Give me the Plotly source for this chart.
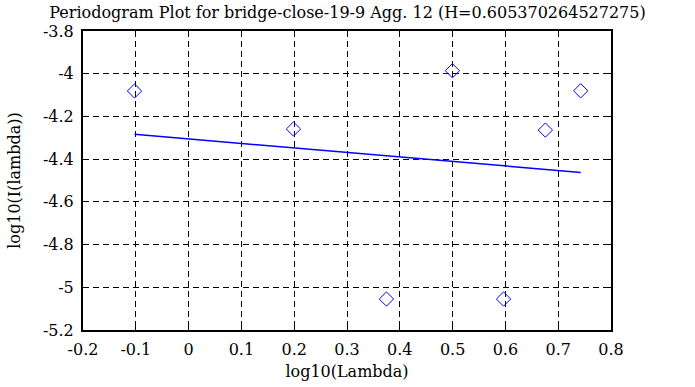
import plotly.graph_objects as go

# Data
log_lambda = [-0.1024, 0.1986, 0.3747, 0.4996, 0.5965, 0.6757, 0.7426]
log_I = [-4.081, -4.259, -5.055, -3.986, -5.055, -4.264, -4.080]
fit_x = [-0.1024, 0.7426]
fit_y = [-4.284, -4.462]

x_tickvals = [-0.2, -0.1, 0, 0.1, 0.2, 0.3, 0.4, 0.5, 0.6, 0.7, 0.8]
x_ticktext = ["-0.2", "-0.1", "0", "0.1", "0.2", "0.3", "0.4", "0.5", "0.6", "0.7", "0.8"]
y_tickvals = [-3.8, -4.0, -4.2, -4.4, -4.6, -4.8, -5.0, -5.2]
y_ticktext = ["-3.8", "-4", "-4.2", "-4.4", "-4.6", "-4.8", "-5", "-5.2"]

title_text = "Periodogram Plot for bridge-close-19-9 Agg. 12 (H=0.605370264527275)"

FONT = "DejaVu Serif"
FS = 16

fig = go.Figure()
fig.add_trace(go.Scatter(
    x=log_lambda, y=log_I, mode="markers",
    marker=dict(symbol="diamond-open", size=11, color="#0000ff", line=dict(width=1, color="#0000ff")),
    showlegend=False, hoverinfo="skip"))
fig.add_trace(go.Scatter(
    x=fit_x, y=fit_y, mode="lines",
    line=dict(color="#0000ff", width=1.5),
    showlegend=False, hoverinfo="skip"))

axis_common = dict(
    showline=True, linecolor="black", linewidth=2, mirror="ticks",
    ticks="inside", ticklen=6, tickwidth=1, tickcolor="black",
    showgrid=True, gridcolor="black", gridwidth=1, griddash="6px,4px",
    zeroline=False, automargin=False,
    tickfont=dict(family=FONT, size=FS, color="black"),
)

fig.update_layout(
    width=695, height=387,
    margin=dict(l=83, r=84, t=31, b=57, autoexpand=False),
    paper_bgcolor="white", plot_bgcolor="white",
    font=dict(family=FONT, size=FS, color="black"),
    title=dict(text=title_text, x=0.5, xanchor="center", y=0.967, yanchor="middle",
               font=dict(family=FONT, size=FS, color="black"), automargin=False),
    xaxis=dict(range=[-0.2, 0.8], tickvals=x_tickvals, ticktext=x_ticktext,
               title=dict(text="log10(Lambda)", font=dict(family=FONT, size=FS, color="black"), standoff=8),
               ticklabelstandoff=4, **axis_common),
    yaxis=dict(range=[-5.2, -3.8], tickvals=y_tickvals, ticktext=y_ticktext,
               title=dict(text="log10(I(lambda))", font=dict(family=FONT, size=FS, color="black"), standoff=18),
               ticklabelstandoff=4, **axis_common),
)

fig.write_html("out.html", config={"displayModeBar": False},
               post_script="document.body.style.margin='0px';document.body.style.padding='0px';")
